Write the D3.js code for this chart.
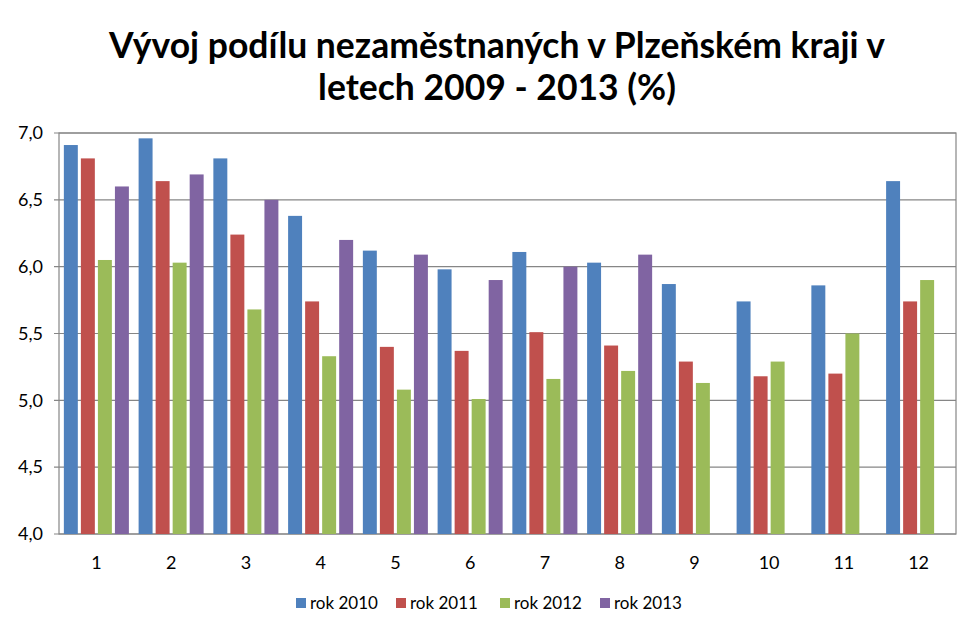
<!DOCTYPE html>
<html><head><meta charset="utf-8">
<script src="https://cdn.jsdelivr.net/npm/d3@7"></script>
<style>body{margin:0;background:#fff;} svg{display:block;font-family:Lato,"Open Sans",sans-serif;}</style>
</head><body>
<svg id="c" width="980" height="634"></svg>
<script>
const categories = ["1","2","3","4","5","6","7","8","9","10","11","12"];
const seriesNames = ["rok 2010","rok 2011","rok 2012","rok 2013"];
const rok2010 = [6.91,6.96,6.81,6.38,6.12,5.98,6.11,6.03,5.87,5.74,5.86,6.64];
const rok2011 = [6.81,6.64,6.24,5.74,5.40,5.37,5.51,5.41,5.29,5.18,5.20,5.74];
const rok2012 = [6.05,6.03,5.68,5.33,5.08,5.01,5.16,5.22,5.13,5.29,5.50,5.90];
const rok2013 = [6.60,6.69,6.50,6.20,6.09,5.90,6.00,6.09,null,null,null,null];
const yTicks = [4.0,4.5,5.0,5.5,6.0,6.5,7.0];
const colors = ["#4f81bd","#c0504d","#9bbb59","#8064a2"];
const titleLines = ["Vývoj podílu nezaměstnaných v Plzeňském kraji v","letech 2009 - 2013 (%)"];

const series = [rok2010, rok2011, rok2012, rok2013];
const svg = d3.select("#c");
const L = 59, R = 956, T = 133, B = 534;

const x0 = d3.scaleBand().domain(categories).range([L, R]).paddingInner(0.13).paddingOuter(0.065);
const x1 = d3.scaleBand().domain(d3.range(4)).range([0, x0.bandwidth()]).paddingInner(0.18);
const y = d3.scaleLinear().domain([4, 7]).range([B, T]);

// gridlines
svg.append("g").selectAll("line").data(yTicks).join("line")
  .attr("x1", L - 5).attr("x2", R).attr("y1", d => y(d)).attr("y2", d => y(d))
  .attr("stroke", "#868686").attr("stroke-width", 1.2);

// border
svg.append("rect").attr("x", L).attr("y", T).attr("width", R - L).attr("height", B - T)
  .attr("fill", "none").attr("stroke", "#868686").attr("stroke-width", 1.2);

// bars
const g = svg.append("g");
categories.forEach((c, i) => {
  series.forEach((s, k) => {
    const v = s[i];
    if (v == null) return;
    g.append("rect")
      .attr("x", x0(c) + x1(k)).attr("width", x1.bandwidth())
      .attr("y", y(v)).attr("height", y(4) - y(v))
      .attr("fill", colors[k]);
  });
});

// y axis labels
const fmt = d => d3.format(".1f")(d).replace(".", ",");
svg.append("g").selectAll("text").data(yTicks).join("text")
  .attr("x", 43).attr("y", d => y(d)).attr("dy", "0.35em")
  .attr("text-anchor", "end").attr("font-size", 18).attr("fill", "#000")
  .text(fmt);

// x labels
svg.append("g").selectAll("text").data(categories).join("text")
  .attr("x", d => x0(d) + x0.bandwidth() / 2).attr("y", 569)
  .attr("text-anchor", "middle").attr("font-size", 18).attr("fill", "#000")
  .text(d => d);

// title
svg.append("g").selectAll("text").data(titleLines).join("text")
  .attr("x", 497).attr("y", (d, i) => 58 + i * 42)
  .attr("text-anchor", "middle").attr("font-size", 35.5).attr("font-weight", "bold").attr("fill", "#000")
  .text(d => d);

// legend
const legX = [296, 396, 500, 600];
const leg = svg.append("g");
seriesNames.forEach((n, k) => {
  leg.append("rect").attr("x", legX[k]).attr("y", 598).attr("width", 10).attr("height", 10).attr("fill", colors[k]);
  leg.append("text").attr("x", legX[k] + 14).attr("y", 609).attr("font-size", 17).attr("fill", "#000").text(n);
});
</script>
</body></html>
